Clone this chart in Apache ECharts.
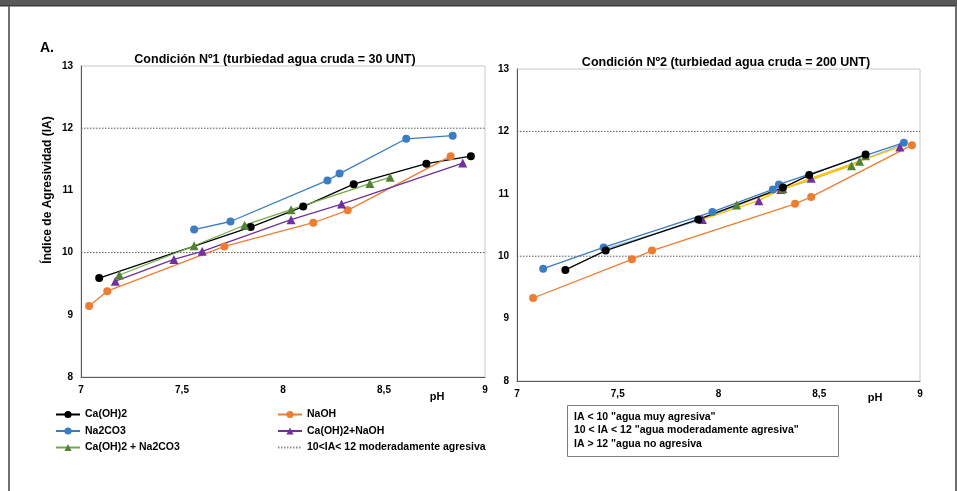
<!DOCTYPE html>
<html>
<head>
<meta charset="utf-8">
<script src="https://cdn.jsdelivr.net/npm/echarts@6/dist/echarts.min.js"></script>
<style>
  html, body { margin: 0; padding: 0; background: #fff; }
  #chart { width: 957px; height: 491px; }
</style>
</head>
<body>
<div id="chart"></div>
<script>
// Condición Nº1 (30 UNT): [pH, IA]
var c1CaOH2 = [[7.09, 9.59], [7.84, 10.41], [8.10, 10.74], [8.35, 11.10], [8.71, 11.43], [8.93, 11.55]]
var c1NaOH = [[7.04, 9.14], [7.13, 9.38], [7.71, 10.10], [8.15, 10.48], [8.32, 10.68], [8.83, 11.55]]
var c1Na2CO3 = [[7.56, 10.37], [7.74, 10.50], [8.22, 11.16], [8.28, 11.27], [8.61, 11.83], [8.84, 11.88]]
var c1CaNaOH = [[7.17, 9.54], [7.46, 9.89], [7.60, 10.02], [8.04, 10.53], [8.29, 10.78], [8.89, 11.44]]
var c1CaNa2CO3 = [[7.19, 9.64], [7.56, 10.11], [7.81, 10.44], [8.04, 10.69], [8.43, 11.11], [8.53, 11.21]]

// Condición Nº2 (200 UNT): [pH, IA]
var c2CaOH2 = [[7.24, 9.78], [7.44, 10.09], [7.90, 10.59], [8.32, 11.10], [8.45, 11.30], [8.73, 11.63]]
var c2NaOH = [[7.08, 9.33], [7.57, 9.95], [7.67, 10.09], [8.38, 10.84], [8.46, 10.95], [8.96, 11.78]]
var c2Na2CO3 = [[7.13, 9.80], [7.43, 10.14], [7.97, 10.71], [8.27, 11.07], [8.30, 11.15], [8.92, 11.82]]
var c2CaNaOH = [[7.92, 10.59], [8.20, 10.89], [8.31, 11.07], [8.46, 11.25], [8.90, 11.75]]
var c2CaNa2CO3 = [[8.09, 10.82], [8.32, 11.08], [8.66, 11.45], [8.70, 11.52], [8.73, 11.61]]
var c2Extra = [[7.43, 10.11], [7.90, 10.57], [8.27, 11.03], [8.46, 11.22], [8.91, 11.79]]

var limitsIA = [10, 12]
var xTicks = { min: 7, max: 9, interval: 0.5 }
var yTicks = { min: 8, max: 13, interval: 1 }

var FONT = 'Liberation Sans, Arial, sans-serif'
var LIMIT_NAME = '10<IA< 12 moderadamente agresiva'

var chart = echarts.init(document.getElementById('chart'), null, { renderer: 'canvas' })

var makeX = function (i) {
    return {
        type: 'value', gridIndex: i,
        min: xTicks.min, max: xTicks.max, interval: xTicks.interval,
        axisLine: { show: true, onZero: false, lineStyle: { color: '#595959', width: 1 } },
        axisTick: { show: false },
        splitLine: { show: false },
        axisLabel: {
            margin: 8, fontFamily: FONT, fontWeight: 'bold', fontSize: 10, color: '#000',
            formatter: function (v) { return String(v).replace('.', ',') }
        }
    }
}

var makeY = function (i) {
    return {
        type: 'value', gridIndex: i,
        min: yTicks.min, max: yTicks.max, interval: yTicks.interval,
        axisLine: { show: true, onZero: false, lineStyle: { color: '#595959', width: 1 } },
        axisTick: { show: false },
        splitLine: { show: false },
        axisLabel: { margin: 8, fontFamily: FONT, fontWeight: 'bold', fontSize: 10, color: '#000' }
    }
}

var line = function (name, data, i, color, lineColor, symbol) {
    return {
        name: name, type: 'line', data: data,
        xAxisIndex: i, yAxisIndex: i,
        symbol: symbol, symbolSize: symbol == 'triangle' ? 9 : 8,
        itemStyle: { color: color },
        lineStyle: { color: lineColor, width: 1.3 },
        emphasis: { disabled: true },
        animation: false, z: 3
    }
}

var limitLine = function (value, i) {
    return {
        name: LIMIT_NAME, type: 'line',
        data: [[xTicks.min, value], [xTicks.max, value]],
        xAxisIndex: i, yAxisIndex: i,
        symbol: 'none',
        itemStyle: { color: '#595959' },
        lineStyle: { color: '#595959', width: 1, type: [1.5, 1.5] },
        animation: false, z: 2
    }
}

var series = [
    line('Ca(OH)2', c1CaOH2, 0, '#000000', '#000000', 'circle'),
    line('NaOH', c1NaOH, 0, '#ed7d31', '#ed7d31', 'circle'),
    line('Na2CO3', c1Na2CO3, 0, '#3a7dc2', '#3a7dc2', 'circle'),
    line('Ca(OH)2+NaOH', c1CaNaOH, 0, '#7030a0', '#7030a0', 'triangle'),
    line('Ca(OH)2 + Na2CO3', c1CaNa2CO3, 0, '#548235', '#70ad47', 'triangle'),
    line('extra', c2Extra, 1, '#8eb8e3', '#8eb8e3', 'none'),
    line('Ca(OH)2+NaOH', c2CaNaOH, 1, '#7030a0', '#ffc000', 'triangle'),
    line('Ca(OH)2 + Na2CO3', c2CaNa2CO3, 1, '#548235', '#ffc000', 'triangle'),
    line('Na2CO3', c2Na2CO3, 1, '#3a7dc2', '#3a7dc2', 'circle'),
    line('Ca(OH)2', c2CaOH2, 1, '#000000', '#000000', 'circle'),
    line('NaOH', c2NaOH, 1, '#ed7d31', '#ed7d31', 'circle')
]
for (var i = 0; i < limitsIA.length; i++) {
    series.push(limitLine(limitsIA[i], 0))
    series.push(limitLine(limitsIA[i], 1))
}

var legendText = { fontFamily: FONT, fontWeight: 'bold', fontSize: 10.5, color: '#000' }

var option = {
    backgroundColor: '#fff',
    animation: false,
    title: [
        { text: 'Condición Nº1 (turbiedad agua cruda = 30 UNT)', left: 270, top: 48, textAlign: 'center',
          textStyle: { fontFamily: FONT, fontWeight: 'bold', fontSize: 12.5, color: '#000' } },
        { text: 'Condición Nº2 (turbiedad agua cruda = 200 UNT)', left: 721, top: 51, textAlign: 'center',
          textStyle: { fontFamily: FONT, fontWeight: 'bold', fontSize: 12.5, color: '#000' } }
    ],
    grid: [
        { left: 81, top: 66, width: 404, height: 311, show: true, borderColor: '#c8c8c8', borderWidth: 1 },
        { left: 517, top: 69, width: 403, height: 312, show: true, borderColor: '#c8c8c8', borderWidth: 1 }
    ],
    xAxis: [makeX(0), makeX(1)],
    yAxis: [makeY(0), makeY(1)],
    legend: [
        { left: 55, top: 409, padding: 0, orient: 'vertical', itemWidth: 24, itemHeight: 9, itemGap: 5.5,
          textStyle: legendText, selectedMode: false,
          data: ['Ca(OH)2', 'Na2CO3', 'Ca(OH)2 + Na2CO3'] },
        { left: 277, top: 409, padding: 0, orient: 'vertical', itemWidth: 24, itemHeight: 9, itemGap: 5.5,
          textStyle: legendText, selectedMode: false,
          data: ['NaOH', 'Ca(OH)2+NaOH',
                 { name: LIMIT_NAME, itemStyle: { color: 'rgba(0,0,0,0)', borderWidth: 0 },
                   lineStyle: { color: '#8c8c8c', type: [1.5, 1.5] } }] }
    ],
    graphic: [
        { type: 'rect', shape: { x: 0, y: 0, width: 957, height: 6 }, style: { fill: '#58595b' }, silent: true },
        { type: 'rect', shape: { x: 0, y: 5, width: 957, height: 1.5 }, style: { fill: '#3c3c3c' }, silent: true },
        { type: 'rect', shape: { x: 8, y: 6, width: 2, height: 485 }, style: { fill: '#6d6e70' }, silent: true },
        { type: 'rect', shape: { x: 955, y: 6, width: 2, height: 485 }, style: { fill: '#6d6e70' }, silent: true },
        { type: 'text', x: 40, y: 41, style: { text: 'A.', font: 'bold 14px ' + FONT, fill: '#000' } },
        { type: 'text', x: 48, y: 190, rotation: Math.PI / 2,
          style: { text: 'Índice de Agresividad (IA)', font: 'bold 12px ' + FONT, fill: '#000',
                   textAlign: 'center', textVerticalAlign: 'middle' } },
        { type: 'text', x: 437, y: 397, style: { text: 'pH', font: 'bold 11px ' + FONT, fill: '#000',
          textAlign: 'center', textVerticalAlign: 'middle' } },
        { type: 'text', x: 875, y: 398, style: { text: 'pH', font: 'bold 11px ' + FONT, fill: '#000',
          textAlign: 'center', textVerticalAlign: 'middle' } },
        { type: 'rect', shape: { x: 567.5, y: 405.5, width: 271, height: 51 },
          style: { fill: '#fff', stroke: '#7f7f7f', lineWidth: 1 } },
        { type: 'text', x: 574, y: 410, style: {
            text: 'IA < 10 "agua muy agresiva"\n10 < IA < 12 "agua moderadamente agresiva"\nIA > 12 "agua no agresiva',
            font: 'bold 10.5px ' + FONT, fill: '#000', lineHeight: 13.5 } }
    ],
    series: series
}

chart.setOption(option)
</script>
</body>
</html>
